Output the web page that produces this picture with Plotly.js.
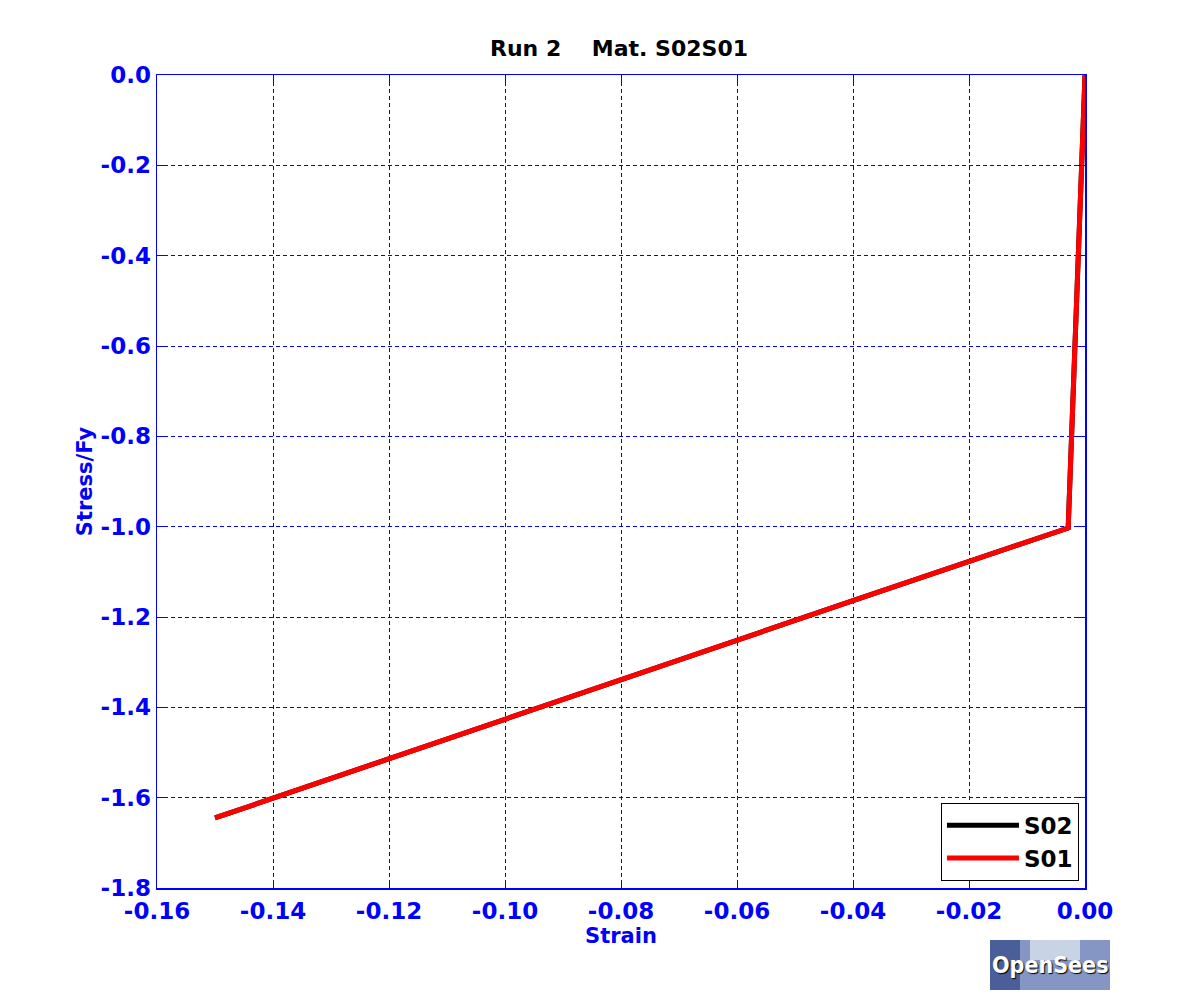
<!DOCTYPE html>
<html>
<head>
<meta charset="utf-8">
<script src="https://cdn.plot.ly/plotly-3.0.1.min.js"></script>
<style>html,body{margin:0;padding:0;background:#fff;}#chart{width:1200px;height:1000px;}</style>
</head>
<body>
<div id="chart"></div>
<script>
// Data
const strainS02 = [0.0, -0.0029, -0.04, -0.10, -0.15];
const stressS02 = [0.0, -1.003, -1.164, -1.425, -1.645];
const strainS01 = [0.0, -0.0029, -0.04, -0.10, -0.15];
const stressS01 = [0.0, -1.003, -1.164, -1.425, -1.645];

const xTickVals = [-0.16, -0.14, -0.12, -0.10, -0.08, -0.06, -0.04, -0.02, 0.00];
const xTickText = ["-0.16", "-0.14", "-0.12", "-0.10", "-0.08", "-0.06", "-0.04", "-0.02", "0.00"];
const yTickVals = [0.0, -0.2, -0.4, -0.6, -0.8, -1.0, -1.2, -1.4, -1.6, -1.8];
const yTickText = ["0.0", "-0.2", "-0.4", "-0.6", "-0.8", "-1.0", "-1.2", "-1.4", "-1.6", "-1.8"];

const FONT = "DejaVu Sans, Liberation Sans, Arial, sans-serif";
const BLUE = "rgb(0,0,255)";

const traces = [
  {x: strainS02, y: stressS02, name: "<b>S02</b>", mode: "lines", line: {color: "#000000", width: 5}},
  {x: strainS01, y: stressS01, name: "<b>S01</b>", mode: "lines", line: {color: "#ff0000", width: 5}}
];

const axisCommon = {
  showline: true, linecolor: BLUE, linewidth: 1.5, mirror: "ticks",
  ticks: "inside", tickcolor: BLUE, ticklen: 7, tickwidth: 1,
  showgrid: true, gridcolor: BLUE, griddash: "4px,3px", gridwidth: 1,
  zeroline: false, tickmode: "array",
  tickfont: {family: FONT, size: 23, color: BLUE, weight: "bold"}
};

const layout = {
  width: 1200, height: 1000,
  paper_bgcolor: "#ffffff", plot_bgcolor: "#ffffff",
  margin: {l: 157, r: 115, t: 75, b: 112},
  title: {text: "Run 2&nbsp;&nbsp;&nbsp; Mat. S02S01", font: {family: FONT, size: 22, color: "#000000", weight: "bold"}, x: 619 / 1200, xanchor: "center", y: 1 - 48 / 1000, yanchor: "middle"},
  xaxis: Object.assign({}, axisCommon, {
    range: [-0.16, 0.0], tickvals: xTickVals, ticktext: xTickText, ticklabelstandoff: 2,
    title: {text: "Strain", font: {family: FONT, size: 21, color: BLUE, weight: "bold"}, standoff: 4}
  }),
  yaxis: Object.assign({}, axisCommon, {
    range: [-1.8, 0.0], tickvals: yTickVals, ticktext: yTickText,
    title: {text: "Stress/Fy", font: {family: FONT, size: 21, color: BLUE, weight: "bold"}, standoff: 2}
  }),
  legend: {
    x: 0.9935, y: 0.009, xanchor: "right", yanchor: "bottom",
    bgcolor: "#ffffff", bordercolor: "#000000", borderwidth: 1,
    font: {family: FONT, size: 23, color: "#000000"},
    tracegroupgap: 0, itemwidth: 72
  },
  shapes: [],
  annotations: []
};

// OpenSees logo (approximation) below the plot area, bottom-right
const px = (v) => (v - 157) / 928;
const py = (v) => -(v - 888) / 813;
layout.shapes.push({type: "rect", xref: "paper", yref: "paper",
  x0: px(990), x1: px(1110), y0: py(990), y1: py(940),
  fillcolor: "#8596c4", line: {width: 0}, layer: "above"});
layout.shapes.push({type: "rect", xref: "paper", yref: "paper",
  x0: px(990), x1: px(1020), y0: py(990), y1: py(940),
  fillcolor: "#4a5f9a", line: {width: 0}, layer: "above"});
layout.shapes.push({type: "rect", xref: "paper", yref: "paper",
  x0: px(1030), x1: px(1080), y0: py(960), y1: py(940),
  fillcolor: "#c9d3e6", line: {width: 0}, layer: "above"});
layout.annotations.push({xref: "paper", yref: "paper", x: px(1050), y: py(965),
  text: "<b>OpenSees</b>", showarrow: false,
  font: {family: "DejaVu Sans Condensed, Liberation Sans Narrow, sans-serif", size: 23, color: "#ffffff", shadow: "1px 1px 1px #000"},
  xanchor: "center", yanchor: "middle"});

Plotly.newPlot("chart", traces, layout, {displayModeBar: false, staticPlot: true});
</script>
</body>
</html>
